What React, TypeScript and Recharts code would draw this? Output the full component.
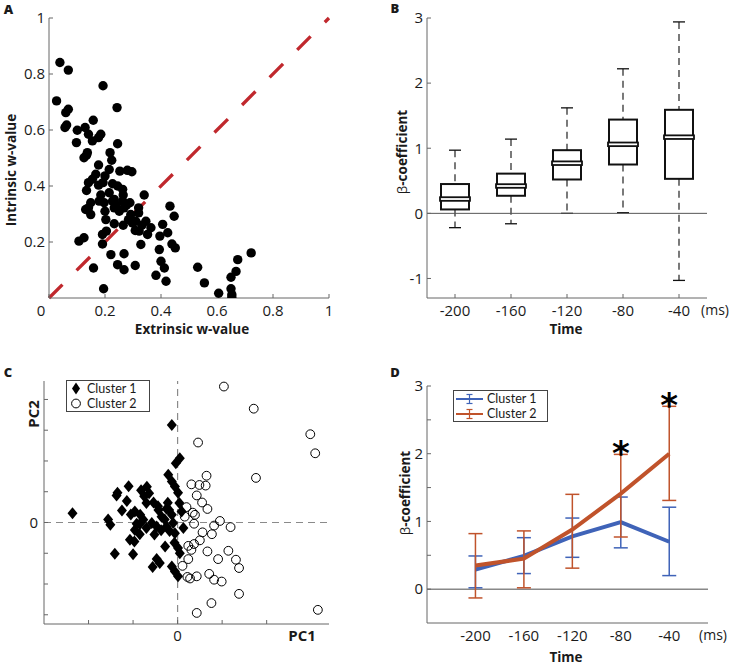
import React from "react";
import {
  ComposedChart,
  ScatterChart,
  Scatter,
  Line,
  Bar,
  XAxis,
  YAxis,
  ReferenceLine,
  ErrorBar,
  Legend,
} from "recharts";

const FONT = "'Open Sans', Lato, sans-serif";
const INK = "#1a1a1a";
const AXIS = "#666";

// ---- A: extrinsic vs intrinsic w-value, one point per neuron
const wValues: [number, number][] = [
  [0.039, 0.841], [0.069, 0.814], [0.027, 0.704], [0.193, 0.758], [0.243, 0.68], [0.06, 0.662],
  [0.069, 0.674], [0.057, 0.609], [0.063, 0.618], [0.101, 0.599], [0.129, 0.609], [0.158, 0.635],
  [0.141, 0.585], [0.185, 0.585], [0.155, 0.561], [0.098, 0.555], [0.177, 0.573], [0.245, 0.551],
  [0.137, 0.519], [0.125, 0.501], [0.134, 0.51], [0.218, 0.519], [0.224, 0.492], [0.177, 0.475],
  [0.215, 0.459], [0.253, 0.453], [0.28, 0.456], [0.296, 0.451], [0.167, 0.442], [0.155, 0.424],
  [0.141, 0.412], [0.2, 0.436], [0.193, 0.412], [0.177, 0.403], [0.134, 0.384], [0.227, 0.408],
  [0.245, 0.4], [0.263, 0.388], [0.265, 0.368], [0.215, 0.376], [0.185, 0.368], [0.34, 0.368],
  [0.149, 0.34], [0.141, 0.322], [0.131, 0.316], [0.149, 0.298], [0.197, 0.34], [0.2, 0.31],
  [0.227, 0.346], [0.239, 0.332], [0.263, 0.346], [0.277, 0.332], [0.289, 0.34], [0.251, 0.31],
  [0.268, 0.322], [0.32, 0.322], [0.32, 0.304], [0.432, 0.328], [0.447, 0.292], [0.203, 0.28],
  [0.233, 0.265], [0.265, 0.26], [0.284, 0.28], [0.298, 0.268], [0.308, 0.241], [0.322, 0.239],
  [0.332, 0.26], [0.346, 0.274], [0.364, 0.251], [0.352, 0.227], [0.406, 0.263], [0.424, 0.233],
  [0.396, 0.221], [0.205, 0.239], [0.328, 0.191], [0.439, 0.193], [0.451, 0.179], [0.394, 0.173],
  [0.107, 0.203], [0.125, 0.215], [0.191, 0.193], [0.221, 0.155], [0.268, 0.158], [0.245, 0.119],
  [0.268, 0.101], [0.308, 0.116], [0.159, 0.107], [0.4, 0.131], [0.412, 0.107], [0.382, 0.081],
  [0.418, 0.06], [0.195, 0.033], [0.531, 0.11], [0.555, 0.054], [0.606, 0.017], [0.65, 0.033],
  [0.653, 0.012], [0.653, 0.002], [0.65, 0.074], [0.668, 0.095], [0.674, 0.137], [0.722, 0.161],
  [0.191, 0.227], [0.179, 0.346], [0.233, 0.322], [0.292, 0.298], [0.233, 0.352], [0.31, 0.274],
];
const unitTicks = [0, 0.2, 0.4, 0.6, 0.8, 1];

// ---- B: beta coefficients per time bin (box plot)
const times = [-200, -160, -120, -80, -40];
const whiskerLow = [-0.22, -0.16, 0.0, 0.01, -1.03];
const q1 = [0.06, 0.27, 0.52, 0.75, 0.53];
const medians = [0.22, 0.42, 0.77, 1.06, 1.17];
const q3 = [0.45, 0.61, 0.97, 1.44, 1.59];
const whiskerHigh = [0.97, 1.14, 1.62, 2.22, 2.94];

// ---- C: PCA projection
const cluster1Pts: [number, number][] = [
  [-2.36, 0.3], [-0.13, 3.17], [0.05, 2.09], [-0.04, 1.93], [-0.21, 1.55], [-0.13, 1.33],
  [-0.06, 1.17], [0.01, 0.97], [-1.35, 0.97], [-1.1, 1.18], [-1.37, 0.88], [-1.14, 0.7],
  [-0.82, 1.05], [-0.69, 1.16], [-0.75, 0.85], [-0.64, 0.95], [-0.7, 0.63], [-0.54, 0.65],
  [-0.44, 0.53], [-0.22, 0.64], [-0.25, 0.45], [-1.25, 0.39], [-1.05, 0.26], [-0.96, 0.36],
  [-0.84, 0.25], [-0.92, -0.04], [-0.77, 0.09], [-0.43, 0.41], [-0.36, 0.19], [-0.19, 0.41],
  [-0.13, 0.25], [0.04, 0.63], [0.09, 0.36], [-1.56, 0.1], [-1.51, -0.07], [-0.96, -0.24],
  [-0.85, -0.38], [-1.07, -0.56], [-0.97, -0.62], [-0.52, -0.39], [-0.37, -0.25], [-0.18, -0.28],
  [-0.25, -0.13], [-0.06, -0.35], [0.13, -0.18], [-0.28, -0.78], [0.01, -0.83], [0.05, -1.0],
  [-1.41, -1.02], [-1.0, -1.03], [-0.47, -1.19], [-0.4, -1.32], [-0.56, -1.45], [-0.13, -1.43],
  [-0.06, -1.59], [0.01, -1.75], [-0.58, -0.02], [-0.47, -0.13], [-0.1, -0.02], [-0.29, 0.1],
  [-0.7, -0.18], [-0.07, -0.66], [-0.85, -0.06],
];
const cluster2Pts: [number, number][] = [
  [1.04, 4.42], [1.71, 3.7], [2.98, 2.87], [3.09, 2.25], [0.46, 2.6], [1.76, 1.45], [0.65, 1.52],
  [0.31, 1.24], [0.49, 1.22], [0.63, 1.2], [0.43, 0.88], [0.55, 0.65], [0.67, 0.44], [0.2, 0.5],
  [0.34, 0.32], [0.39, 0.25], [0.37, -0.04], [0.95, 0.05], [0.82, -0.1], [1.19, -0.15],
  [0.56, -0.32], [0.77, -0.38], [0.5, -0.58], [0.37, -0.7], [0.24, -0.76], [0.31, -0.89],
  [0.67, -0.94], [1.14, -0.92], [0.91, -1.19], [1.31, -1.21], [1.38, -1.48], [0.11, -1.41],
  [0.24, -1.19], [0.22, -1.77], [0.28, -1.82], [0.43, -1.75], [0.71, -1.67], [0.82, -1.86],
  [0.99, -1.92], [1.38, -2.32], [0.76, -2.62], [0.43, -2.94], [3.15, -2.84], [0.16, 0.19],
];
const pc1Ticks = [-2, -1, 0, 1, 2];
const pc2Ticks = [-3, -2, -1, 0, 1, 2, 3, 4];

// ---- D: mean beta per cluster with error bars
const c1Mean = [0.29, 0.49, 0.78, 0.99, 0.7];
const c1Low = [0.02, 0.23, 0.47, 0.61, 0.2];
const c1High = [0.49, 0.76, 1.05, 1.36, 1.21];
const c2Mean = [0.35, 0.45, 0.88, 1.41, 2.0];
const c2Low = [-0.13, 0.02, 0.31, 0.77, 1.31];
const c2High = [0.82, 0.86, 1.4, 1.99, 2.7];
const starTimes = [-80, -40];
const starLevels = [2.13, 2.84];
const betaTicksD = [0, 0.5, 1, 1.5, 2, 2.5, 3];

const BLUE = "#3f63b8";
const ORANGE = "#c0532b";

const scatterA = wValues.map(([x, y]) => ({ x, y }));
const boxRows = times.map((t, i) => ({
  t,
  whisker: [whiskerLow[i], whiskerHigh[i]],
  q1: q1[i],
  med: medians[i],
  q3: q3[i],
}));
const c1Rows = cluster1Pts.map(([x, y]) => ({ x, y }));
const c2Rows = cluster2Pts.map(([x, y]) => ({ x, y }));
const lineRows = times.map((t, i) => ({
  t,
  c1: c1Mean[i],
  c1Err: [c1Mean[i] - c1Low[i], c1High[i] - c1Mean[i]],
  c2: c2Mean[i],
  c2Err: [c2Mean[i] - c2Low[i], c2High[i] - c2Mean[i]],
}));
const starRows = starTimes.map((t, i) => ({ t, level: starLevels[i] }));

const tickStyle = { fontSize: 15, fill: INK, fontFamily: FONT };

function BoxShape(props: any) {
  const { x, y, width, height, payload } = props;
  const [lo, hi] = payload.whisker;
  const top = Math.min(y, y + height);
  const k = Math.abs(height) / (hi - lo);
  const py = (v: number) => top + (hi - v) * k;
  const cx = x + width / 2;
  const half = width / 2;
  return (
    <g>
      <line x1={cx} x2={cx} y1={py(hi)} y2={py(payload.q3)} stroke="#333" strokeWidth={1.3} strokeDasharray="7 5" />
      <line x1={cx} x2={cx} y1={py(payload.q1)} y2={py(lo)} stroke="#333" strokeWidth={1.3} strokeDasharray="7 5" />
      <line x1={cx - 6} x2={cx + 6} y1={py(hi)} y2={py(hi)} stroke="#111" strokeWidth={1.3} />
      <line x1={cx - 6} x2={cx + 6} y1={py(lo)} y2={py(lo)} stroke="#111" strokeWidth={1.3} />
      <rect x={cx - half} y={py(payload.q3)} width={width} height={py(payload.q1) - py(payload.q3)} fill="#fff" stroke="#111" strokeWidth={2} />
      <rect x={cx - half - 1} y={py(payload.med) - 1.8} width={width + 2} height={3.6} fill="#fff" stroke="#111" strokeWidth={1.8} />
    </g>
  );
}

const BlackDot = (p: any) => <circle cx={p.cx} cy={p.cy} r={4.7} fill="#000" />;
const Diamond = (p: any) => (
  <path d={`M${p.cx},${p.cy - 6}L${p.cx + 5},${p.cy}L${p.cx},${p.cy + 6}L${p.cx - 5},${p.cy}Z`} fill="#000" />
);
const Ring = (p: any) => <circle cx={p.cx} cy={p.cy} r={4.4} fill="none" stroke="#000" strokeWidth={1} />;
const Star = (p: any) => (
  <text x={p.cx} y={p.cy} dy={20} textAnchor="middle" fontSize={34} fontWeight={700} fontFamily="'DejaVu Sans'" fill="#000">
    *
  </text>
);

function ZeroTickA(props: any) {
  const { x, y, payload } = props;
  const shift = payload.value === 0 ? -8 : 0;
  return (
    <text x={x + shift} y={y} dy="0.71em" textAnchor="middle" {...tickStyle}>
      {String(payload.value)}
    </text>
  );
}

function Caption(props: { x: number; y: number; size?: number; weight?: number; rotate?: boolean; children: any }) {
  const { x, y, size = 15, weight = 700, rotate = false, children } = props;
  return (
    <div
      style={{
        position: "absolute",
        left: x,
        top: y,
        transform: `translate(-50%, -50%)${rotate ? " rotate(-90deg)" : ""}`,
        whiteSpace: "nowrap",
        fontFamily: FONT,
        fontSize: size,
        fontWeight: weight,
        color: INK,
        lineHeight: 1,
      }}
    >
      {children}
    </div>
  );
}

const legendBox = {
  border: "1.5px solid #444",
  background: "#fff",
  fontFamily: "Lato, 'Open Sans', sans-serif",
  fontSize: 12.5,
  color: INK,
  lineHeight: "15px",
};

function LegendC() {
  return (
    <div style={{ ...legendBox, width: 80, height: 30, paddingLeft: 2 }}>
      <div style={{ display: "flex", alignItems: "center", height: 15 }}>
        <svg width={14} height={13}><path d="M7,0.5L11,6.5L7,12.5L3,6.5Z" fill="#000" /></svg>
        <span style={{ marginLeft: 4 }}>Cluster 1</span>
      </div>
      <div style={{ display: "flex", alignItems: "center", height: 15 }}>
        <svg width={14} height={13}><circle cx={7} cy={6.5} r={4.4} fill="none" stroke="#000" /></svg>
        <span style={{ marginLeft: 4 }}>Cluster 2</span>
      </div>
    </div>
  );
}

function LegendD() {
  const icon = (c: string) => (
    <svg width={30} height={12}>
      <line x1={2} x2={29} y1={6} y2={6} stroke={c} strokeWidth={2} />
      <line x1={15.5} x2={15.5} y1={1.5} y2={10.5} stroke={c} strokeWidth={1.2} />
      <line x1={12.5} x2={18.5} y1={1.5} y2={1.5} stroke={c} strokeWidth={1.2} />
      <line x1={12.5} x2={18.5} y1={10.5} y2={10.5} stroke={c} strokeWidth={1.2} />
    </svg>
  );
  return (
    <div style={{ ...legendBox, width: 93, height: 30 }}>
      <div style={{ display: "flex", alignItems: "center", height: 15 }}>
        {icon(BLUE)}
        <span style={{ marginLeft: 3 }}>Cluster 1</span>
      </div>
      <div style={{ display: "flex", alignItems: "center", height: 15 }}>
        {icon(ORANGE)}
        <span style={{ marginLeft: 3 }}>Cluster 2</span>
      </div>
    </div>
  );
}

const Beta = () => (
  <>
    <span style={{ fontWeight: 400 }}>β</span>-coefficient
  </>
);

export default function App() {
  return (
    <div style={{ position: "absolute", left: 0, top: 0, width: 736, height: 665, background: "#fff", overflow: "hidden" }}>
      {/* A */}
      <div style={{ position: "absolute", left: 0, top: 0 }}>
        <ScatterChart width={340} height={345} margin={{ top: 18, right: 11, bottom: 0, left: 0 }}>
          <XAxis type="number" dataKey="x" domain={[0, 1]} ticks={unitTicks} height={47} stroke={AXIS} tickSize={-4} tickMargin={11} tick={<ZeroTickA />} allowDataOverflow />
          <YAxis type="number" dataKey="y" domain={[0, 1]} ticks={unitTicks.slice(1)} width={49} stroke={AXIS} tickSize={-4} tickMargin={8} tick={tickStyle} allowDataOverflow />
          <Scatter data={scatterA} shape={BlackDot} isAnimationActive={false} />
          <ReferenceLine segment={[{ x: 0, y: 0 }, { x: 1, y: 1 }]} stroke="#c0282d" strokeWidth={3.3} strokeDasharray="19 20" />
        </ScatterChart>
      </div>

      {/* B */}
      <div style={{ position: "absolute", left: 368, top: 0 }}>
        <ComposedChart width={368} height={345} data={boxRows} margin={{ top: 18, right: 29, bottom: 0, left: 0 }}>
          <XAxis dataKey="t" interval={0} height={47} stroke={AXIS} tickSize={-4} tickMargin={11} tick={tickStyle} />
          <YAxis type="number" domain={[-1.3, 3]} ticks={[-1, 0, 1, 2, 3]} width={59} stroke={AXIS} tickSize={-4} tickMargin={8} tick={tickStyle} allowDataOverflow />
          <ReferenceLine y={0} stroke="#555" strokeWidth={1} />
          <Bar dataKey="whisker" barSize={28} shape={<BoxShape />} isAnimationActive={false} />
        </ComposedChart>
      </div>

      {/* C */}
      <div style={{ position: "absolute", left: 0, top: 340 }}>
        <ScatterChart width={368} height={325} margin={{ top: 41, right: 39, bottom: 0, left: 0 }}>
          <XAxis type="number" dataKey="x" domain={[-3, 3.4]} ticks={pc1Ticks} tickFormatter={(v) => (v === 0 ? "0" : "")} height={41} stroke={AXIS} tickSize={-4} tickMargin={10} tick={tickStyle} allowDataOverflow />
          <YAxis type="number" dataKey="y" domain={[-3.3, 4.6]} ticks={pc2Ticks} tickFormatter={(v) => (v === 0 ? "0" : "")} width={44} stroke={AXIS} tickSize={-4} tickMargin={10} tick={tickStyle} allowDataOverflow />
          <ReferenceLine x={0} stroke="#8a8a8a" strokeWidth={1.2} strokeDasharray="7 5" />
          <ReferenceLine y={0} stroke="#8a8a8a" strokeWidth={1.2} strokeDasharray="7 5" />
          <Scatter name="Cluster 1" data={c1Rows} shape={Diamond} isAnimationActive={false} />
          <Scatter name="Cluster 2" data={c2Rows} shape={Ring} isAnimationActive={false} />
          <Legend layout="vertical" align="center" verticalAlign="middle" wrapperStyle={{ left: 66, top: 40, width: "auto", height: "auto" }} content={() => <LegendC />} />
        </ScatterChart>
      </div>

      {/* D */}
      <div style={{ position: "absolute", left: 368, top: 340 }}>
        <ComposedChart width={368} height={325} data={lineRows} margin={{ top: 46, right: 28, bottom: 0, left: 0 }}>
          <XAxis type="number" dataKey="t" domain={[-240, -8]} ticks={times} height={42} stroke={AXIS} tickLine={false} tickSize={-4} tickMargin={11} tick={tickStyle} allowDataOverflow />
          <YAxis type="number" domain={[-0.5, 3]} ticks={betaTicksD} tickFormatter={(v) => (Number.isInteger(v) ? String(v) : "")} width={59} stroke={AXIS} tickSize={-4} tickMargin={8} tick={tickStyle} allowDataOverflow />
          <ReferenceLine y={0} stroke="#888" strokeWidth={1.5} />
          <Line dataKey="c1" stroke={BLUE} strokeWidth={4} dot={false} isAnimationActive={false}>
            <ErrorBar dataKey="c1Err" direction="y" width={7} stroke={BLUE} strokeWidth={1.5} />
          </Line>
          <Line dataKey="c2" stroke={ORANGE} strokeWidth={4} dot={false} isAnimationActive={false}>
            <ErrorBar dataKey="c2Err" direction="y" width={7} stroke={ORANGE} strokeWidth={1.5} />
          </Line>
          <Scatter data={starRows} dataKey="level" shape={Star} isAnimationActive={false} />
          <Legend layout="vertical" align="center" verticalAlign="middle" wrapperStyle={{ left: 85, top: 50, width: "auto", height: "auto" }} content={() => <LegendD />} />
        </ComposedChart>
      </div>

      <Caption x={8.5} y={8.5} size={13} weight={800}>A</Caption>
      <Caption x={395} y={8} size={13} weight={800}>B</Caption>
      <Caption x={8} y={372} size={13} weight={800}>C</Caption>
      <Caption x={395} y={372} size={13} weight={800}>D</Caption>

      <Caption x={12} y={170} size={13.5} rotate>Intrinsic w-value</Caption>
      <Caption x={192} y={330} size={13.5}>Extrinsic w-value</Caption>

      <Caption x={403} y={152} size={13.5} rotate><Beta /></Caption>
      <Caption x={566} y={330} size={13.5}>Time</Caption>
      <Caption x={715} y={310} size={14} weight={400}>(ms)</Caption>

      <Caption x={33} y={414} size={15} rotate>PC2</Caption>
      <Caption x={302} y={635} size={15}>PC1</Caption>

      <Caption x={406} y={493} size={13.5} rotate><Beta /></Caption>
      <Caption x={566} y={658} size={13.5}>Time</Caption>
      <Caption x={713} y={635} size={14} weight={400}>(ms)</Caption>
    </div>
  );
}
